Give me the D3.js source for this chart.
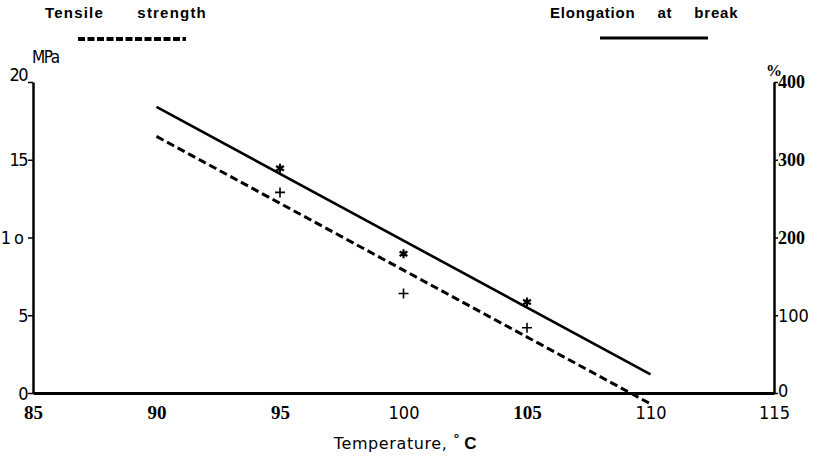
<!DOCTYPE html>
<html>
<head>
<meta charset="utf-8">
<script src="https://cdn.jsdelivr.net/npm/d3@7"></script>
<style>
  body { margin: 0; background: #fff; }
  svg { display: block; }
</style>
</head>
<body>
<script>
// measured points (tensile = "+" marks, elongation = "*" marks)
const temps = [95, 100, 105];
const tensile = [12.9, 6.4, 4.2];        // MPa
const elongation = [289, 179, 117];      // %

// fitted lines, read at both ends
const fitTemps = [90, 110];
const tensileFit = [16.5, -0.7];
const elongationFit = [368, 24];

// ticks
const xTicks = [85, 90, 95, 100, 105, 110, 115];
const yLeftTicks = [0, 5, 10, 15, 20];
const yLeftLabels = ["0", "5", "1o", "15", "20"];
const yRightTicks = [0, 100, 200, 300, 400];

const outerWidth = 817, outerHeight = 459;

const svg = d3.select("body").append("svg")
    .attr("width", outerWidth)
    .attr("height", outerHeight);

const xScale = d3.scaleLinear().domain([85, 115]).range([33, 774]);
const yLeft = d3.scaleLinear().domain([0, 20]).range([393, 82]);
const yRight = d3.scaleLinear().domain([0, 400]).range([393, 82]);

const serifBold = "'Liberation Serif', 'Times New Roman', serif";
const sans = "'DejaVu Sans', sans-serif";
const plain = (d) => [100, 110, 115].includes(d);

// x axis (no ticks, mixed label faces like the scan)
const gx = svg.append("g")
    .attr("transform", `translate(0,${yLeft(0)})`)
    .call(d3.axisBottom(xScale).tickValues(xTicks).tickSize(0).tickSizeOuter(0).tickPadding(13));
gx.select(".domain").attr("stroke-width", 3);
gx.selectAll("text")
    .style("font-size", (d) => plain(d) ? "18px" : "19px")
    .style("font-family", (d) => plain(d) ? sans : serifBold)
    .style("font-weight", (d) => plain(d) ? "normal" : "bold")
    .style("font-stretch", (d) => plain(d) ? "condensed" : "normal")
    .attr("fill", "#000");

// left axis
const gl = svg.append("g")
    .attr("transform", `translate(${xScale(85)},0)`)
    .call(d3.axisLeft(yLeft).tickValues(yLeftTicks).tickSize(5).tickSizeOuter(0).tickPadding(1)
        .tickFormat((d, i) => yLeftLabels[i]));
gl.select(".domain").attr("stroke-width", 2.5);
gl.selectAll("line").attr("stroke-width", 1.5);
gl.selectAll("text")
    .style("font-size", "18px")
    .style("font-family", sans)
    .style("font-stretch", "condensed")
    .attr("letter-spacing", (d) => d === 10 ? "3px" : "-1.5px")
    .attr("dy", (d) => d === 20 ? "-0.1em" : "0.34em")
    .attr("fill", "#000");

// right axis
const gr = svg.append("g")
    .attr("transform", `translate(${xScale(115)},0)`)
    .call(d3.axisRight(yRight).tickValues(yRightTicks).tickSize(4).tickSizeOuter(0).tickPadding(0));
gr.select(".domain").attr("stroke-width", 2.5);
gr.selectAll("line").attr("stroke-width", 1.5);
gr.selectAll("text")
    .style("font-size", "18px")
    .style("font-family", (d) => d <= 100 ? sans : serifBold)
    .style("font-weight", (d) => d <= 100 ? "normal" : "bold")
    .style("font-stretch", (d) => d <= 100 ? "condensed" : "normal")
    .attr("dy", (d) => d === 0 ? "0.22em" : "0.32em")
    .attr("fill", "#000");

// unit labels
svg.append("text").attr("x", 32).attr("y", 63)
    .style("font-family", sans).style("font-size", "17px").style("font-stretch", "condensed")
    .attr("letter-spacing", "-1.5px")
    .text("MPa");
svg.append("text").attr("x", 766).attr("y", 76)
    .style("font-family", serifBold).style("font-weight", "bold").style("font-size", "16px")
    .text("%");

// axis title
const title = svg.append("text").attr("x", xScale(100) + 2).attr("y", 449)
    .attr("text-anchor", "middle")
    .style("font-family", sans).style("font-size", "16px").attr("letter-spacing", "0.6px");
title.append("tspan").text("Temperature, ");
title.append("tspan").attr("dy", -6).style("font-size", "13px").style("font-weight", "bold").text("°");
title.append("tspan").attr("dy", 6).attr("dx", 4).style("font-family", "'Liberation Sans', Arial, sans-serif")
    .style("font-weight", "bold").style("font-size", "17px").text("C");

// fitted lines
const fitLine = (vals, scale) => d3.line()
    .x((d, i) => xScale(fitTemps[i]))
    .y((d) => scale(d))(vals);

svg.append("path")
    .attr("d", fitLine(elongationFit, yRight))
    .attr("fill", "none").attr("stroke", "#000").attr("stroke-width", 2.6);

svg.append("path")
    .attr("d", fitLine(tensileFit, yLeft))
    .attr("fill", "none").attr("stroke", "#000").attr("stroke-width", 3)
    .attr("stroke-dasharray", "8,4");

// point marks
const plus = (cx, cy, r) => `M${cx - r},${cy}H${cx + r}M${cx},${cy - r}V${cy + r}`;
const star = (cx, cy, r) => {
    let p = `M${cx},${cy - r}V${cy + r}`;
    [30, 150].forEach((a) => {
        const dx = r * Math.cos(a * Math.PI / 180), dy = r * Math.sin(a * Math.PI / 180);
        p += `M${cx - dx},${cy - dy}L${cx + dx},${cy + dy}`;
    });
    return p;
};

svg.selectAll(".tensile-pt").data(temps).join("path")
    .attr("class", "tensile-pt")
    .attr("d", (d, i) => plus(xScale(d), yLeft(tensile[i]), 5))
    .attr("stroke", "#000").attr("stroke-width", 1.6).attr("fill", "none");

svg.selectAll(".elong-pt").data(temps).join("path")
    .attr("class", "elong-pt")
    .attr("d", (d, i) => star(xScale(d), yRight(elongation[i]), 4.5))
    .attr("stroke", "#000").attr("stroke-width", 2.2).attr("fill", "none");

// legend
const legendFont = "'Liberation Sans', Arial, sans-serif";
svg.append("text").attr("x", 45).attr("y", 18)
    .style("font-family", legendFont).style("font-weight", "bold").style("font-size", "15px")
    .attr("letter-spacing", "1.2px").attr("word-spacing", "28px")
    .text("Tensile strength");
svg.append("line").attr("x1", 78).attr("x2", 186).attr("y1", 39).attr("y2", 39)
    .attr("stroke", "#000").attr("stroke-width", 4).attr("stroke-dasharray", "7,2.5");

svg.append("text").attr("x", 550).attr("y", 18)
    .style("font-family", legendFont).style("font-weight", "bold").style("font-size", "15px")
    .attr("letter-spacing", "0.8px").attr("word-spacing", "17px")
    .text("Elongation at break");
svg.append("line").attr("x1", 600).attr("x2", 708).attr("y1", 38).attr("y2", 38)
    .attr("stroke", "#000").attr("stroke-width", 3);
</script>
</body>
</html>
